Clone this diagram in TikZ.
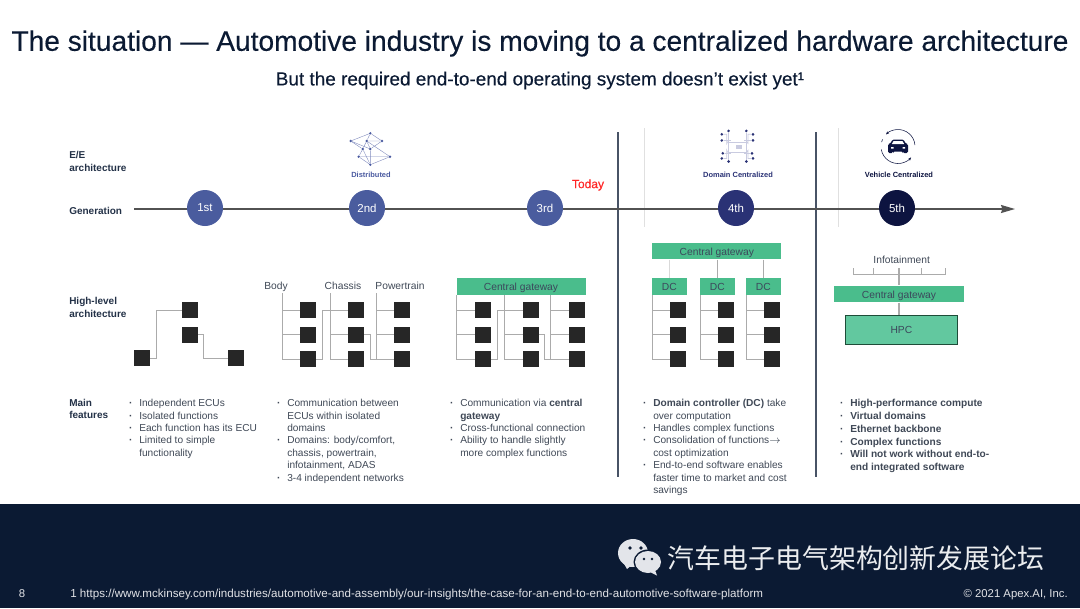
\documentclass[tikz,border=0pt]{standalone}
\usepackage{fontspec}
\setmainfont{Liberation Sans}
\newfontfamily\cjkfont{Noto Sans CJK SC}
\newfontfamily\headfont[FakeBold=0.3]{Liberation Sans}
\usetikzlibrary{positioning,arrows.meta}

\definecolor{navy}{HTML}{0B1A33}
\definecolor{bodygray}{HTML}{3F4856}
\definecolor{wiregray}{HTML}{ABABAB}
\definecolor{gwgreen}{HTML}{4ABD8C}
\definecolor{hpcgreen}{HTML}{62C89F}
\definecolor{genblue}{HTML}{4A5C9E}
\definecolor{genindigo}{HTML}{2A3275}
\definecolor{gendark}{HTML}{0D1440}
\definecolor{iconblue}{HTML}{4A5AA0}
\definecolor{iconlight}{HTML}{C9CBE0}
\definecolor{chatgray}{HTML}{E3E5EA}

\tikzset{
  ecu/.style={fill=black!85,minimum size=12pt,inner sep=0pt},
  wire/.style={draw=wiregray,line width=0.7pt},
  gateway/.style={fill=gwgreen,minimum height=12.4pt,inner sep=0pt,text height=6pt,text depth=0pt,text=navy!80,font=\fontsize{7.7}{9}\selectfont},
  gen/.style={circle,minimum size=27pt,inner sep=0pt,text=white,font=\fontsize{8.6}{10}\selectfont},
  rowlabel/.style={anchor=west,align=left,inner sep=0pt,text=navy!90,font=\fontsize{7.5}{9.6}\selectfont\bfseries},
  toplabel/.style={anchor=base,inner sep=0pt,text=bodygray,font=\fontsize{7.7}{9}\selectfont},
  archlabel/.style={inner sep=0pt,font=\fontsize{5.6}{7}\selectfont\bfseries},
  features/.style={anchor=north west,align=left,inner sep=0pt,text=bodygray,font=\fontsize{7.6}{9.32}\selectfont},
  netdot/.style={circle,fill=iconblue,minimum size=2pt,inner sep=0pt},
  navydot/.style={circle,fill=genindigo,minimum size=2.2pt,inner sep=0pt},
  netline/.style={draw=iconblue!70,line width=0.3pt},
  domline/.style={draw=iconlight,line width=0.6pt},
  divider/.style={draw=navy!75,line width=0.9pt},
  fadeline/.style={draw=black!12,line width=0.7pt},
  footer/.style={inner sep=0pt,text=white!88!navy,font=\fontsize{8.5}{10}\selectfont}
}
\newcommand{\itm}{\llap{\textbf{\textperiodcentered}\hspace{5pt}}}

\begin{document}
\begin{tikzpicture}[x=0.75pt,y=-0.75pt,node distance=6pt]
\useasboundingbox (0,0) rectangle (1080,608);

% headline
\node [inner sep=0pt,text=navy,font=\headfont\fontsize{21.1}{24}\selectfont] (title) at (540,43.5)
  {The situation — Automotive industry is moving to a centralized hardware architecture};
\node [inner sep=0pt,text=navy,font=\headfont\fontsize{14.2}{16}\selectfont] (subtitle) at (540,80.5)
  {But the required end-to-end operating system doesn’t exist yet¹};

% row labels
\node [rowlabel] (eelabel) at (69,161.5) {E/E\\architecture};
\node [rowlabel] (genlabel) at (69,210.5) {Generation};
\node [rowlabel] (hllabel) at (69,307.5) {High-level\\architecture};
\node [rowlabel] (mainlabel) at (69,409) {Main\\features};

% timeline
\coordinate (axisstart) at (134,209);
\coordinate (axisend) at (1015,209);
\coordinate (sepatop) at (618,132);
\coordinate (sepabot) at (618,477);
\coordinate (sepbtop) at (816,132);
\coordinate (sepbbot) at (816,477);
\coordinate (fadeatop) at (644,128);
\coordinate (fadeabot) at (644,227);
\coordinate (fadebtop) at (838,128);
\coordinate (fadebbot) at (838,227);
\draw [fadeline] (fadeatop) -- (fadeabot);
\draw [fadeline] (fadebtop) -- (fadebbot);
\draw [divider] (sepatop) -- (sepabot);
\draw [divider] (sepbtop) -- (sepbbot);
\draw [draw=black!68,line width=1.1pt,-{Stealth[length=10.5pt,width=6pt,inset=1pt]}] (axisstart) -- (axisend);
\node [gen,fill=genblue] (gen1) at (205,208) {1st};
\node [gen,fill=genblue] (gen2) at (367,208) {2nd};
\node [gen,fill=genblue] (gen3) at (545,208) {3rd};
\node [gen,fill=genindigo] (gen4) at (736,208) {4th};
\node [gen,fill=gendark] (gen5) at (897,208) {5th};
\node [inner sep=0pt,text=red!85!white,font=\headfont\fontsize{9}{10}\selectfont] (today) at (588,185) {Today};

% distributed icon
\node [netdot] (na) at (370.3,133.3) {};
\node [netdot] (nb) at (350.7,141) {};
\node [netdot] (nc) at (366.7,141) {};
\node [netdot] (nd) at (382,141) {};
\node [netdot] (ne) at (362.7,149) {};
\node [netdot] (nf) at (370.3,149) {};
\node [netdot] (ng) at (358.7,156.7) {};
\node [netdot] (nh) at (390,156.7) {};
\node [netdot] (ni) at (370.3,164.7) {};
\draw [netline] (nb) -- (na) -- (nd) -- (nf) -- (nc) -- (nh) -- (ni) -- (ng) -- (ne) -- (nb);
\draw [netline] (nc) -- (ne) -- (ni) -- (nf);
\draw [netline] (na) -- (nc) (nb) -- (nf) (ng) -- (nh) (nd) -- (nc);
\node [archlabel,text=iconblue] (distlabel) at (371,175) {Distributed};

% domain centralized icon
\node [draw=iconlight,line width=0.6pt,minimum width=13.5pt,minimum height=7.5pt,inner sep=0pt] (chip) at (737,147) {};
\node [fill=iconlight,minimum width=5pt,minimum height=3pt,inner sep=0pt] (chipcore) at (739,147) {};
\node [navydot] (da) at (728.6,130.9) {};
\node [navydot] (db) at (746.3,130.9) {};
\node [navydot] (dc) at (721.8,134.3) {};
\node [navydot] (dd) at (753,134.3) {};
\node [navydot] (de) at (721.8,140.4) {};
\node [navydot] (df) at (753,140.4) {};
\node [navydot] (dg) at (722.8,153.3) {};
\node [navydot] (dh) at (752,153.3) {};
\node [navydot] (di) at (721.8,158.4) {};
\node [navydot] (dj) at (753,158.4) {};
\node [navydot] (dk) at (728.6,161.5) {};
\node [navydot] (dl) at (746.3,161.5) {};
\draw [domline] (da) -- (da |- chip.north) (db) -- (db |- chip.south);
\draw [domline] (dk) -- (dk |- chip.south) (dl) -- (dl |- chip.north);
\draw [domline] (dc) -| ++(5,9) -- (chip.north west);
\draw [domline] (dd) -| ++(-5,9) -- (chip.north east);
\draw [domline] (de) -- ++(9,0);
\draw [domline] (df) -- ++(-9,0);
\draw [domline] (dg) -- ++(8,0);
\draw [domline] (dh) -- ++(-8,0);
\draw [domline] (di) -| ++(5,-8) -- (chip.south west);
\draw [domline] (dj) -| ++(-5,-8) -- (chip.south east);
\node [archlabel,text=genindigo] (domlabel) at (738,175) {Domain Centralized};

% vehicle centralized icon
\node [inner sep=0pt,minimum size=0pt] (carmid) at (898,146.5) {};
\draw [draw=gendark,line width=0.4pt,-{Stealth[length=2.5pt,width=2pt]}] (carmid) ++(170:17) arc (170:40:17);
\draw [draw=gendark,line width=0.4pt,-{Stealth[length=2.5pt,width=2pt]}] (carmid) ++(355:17) arc (355:225:17);
\draw [draw=gendark,line width=0.4pt] (carmid) ++(205:17) arc (205:195:17);
\fill [gendark,rounded corners=1pt] (888,144) -- (890,144) -- (892.5,139.5) -- (903.5,139.5) -- (906,144) -- (908,144) -- (908,153) -- (903,153) -- (903,151.5) -- (893,151.5) -- (893,153) -- (888,153) -- cycle;
\fill [white] (891.8,144) -- (893.6,141) -- (902.4,141) -- (904.2,144) -- cycle;
\fill [white] (891,147) rectangle (893.5,148.6) (902.5,147) rectangle (905,148.6);
\node [archlabel,text=gendark] (carlabel) at (899,175) {Vehicle Centralized};

% first generation
\node [ecu] (aa) at (190,310) {};
\node [ecu,below=of aa] (ab) {};
\node [ecu] (ac) at (142,358) {};
\node [ecu] (ad) at (236,358) {};
\draw [wire] (ac.east) -- ++(6.5,0) |- (aa.west);
\draw [wire] (ab.east) -- ++(5,0) |- (ad.west);

% second generation
\node [toplabel] (body) at (276,289) {Body};
\node [toplabel] (chassis) at (343,289) {Chassis};
\node [toplabel] (power) at (400,289) {Powertrain};
\coordinate (bodybus) at (282,293);
\coordinate (chassisbus) at (330,293);
\coordinate (powerbus) at (376,293);
\node [ecu] (ba) at (308,310) {};
\node [ecu,below=of ba] (bb) {};
\node [ecu,below=of bb] (bc) {};
\node [ecu] (ca) at (356,310) {};
\node [ecu,below=of ca] (cb) {};
\node [ecu,below=of cb] (cc) {};
\node [ecu] (pa) at (402,310) {};
\node [ecu,below=of pa] (pb) {};
\node [ecu,below=of pb] (pc) {};
\draw [wire] (bodybus) |- (bc.west) (bodybus |- ba) -- (ba.west) (bodybus |- bb) -- (bb.west);
\draw [wire] (chassisbus) |- (cc.west) (chassisbus |- ca) -- (ca.west) (chassisbus |- cb) -- (cb.west);
\draw [wire] (powerbus) |- (pc.west) (powerbus |- pa) -- (pa.west) (powerbus |- pb) -- (pb.west);
\draw [wire] (bc.east) -- ++(6.5,0) |- (ca.west);
\draw [wire] (cb.east) -- ++(6,0) |- (pc.west);

% third generation
\node [gateway,minimum width=96.75pt] (gwthree) at (521,286.5) {Central gateway};
\coordinate (busa) at (456.9,295);
\coordinate (busb) at (504.7,295);
\coordinate (busc) at (550.3,295);
\node [ecu] (ta) at (483,310) {};
\node [ecu,below=of ta] (tb) {};
\node [ecu,below=of tb] (tc) {};
\node [ecu] (ua) at (531,310) {};
\node [ecu,below=of ua] (ub) {};
\node [ecu,below=of ub] (uc) {};
\node [ecu] (va) at (577,310) {};
\node [ecu,below=of va] (vb) {};
\node [ecu,below=of vb] (vc) {};
\draw [wire] (busa) |- (tc.west) (busa |- ta) -- (ta.west) (busa |- tb) -- (tb.west);
\draw [wire] (busb) |- (uc.west) (busb |- ua) -- (ua.west) (busb |- ub) -- (ub.west);
\draw [wire] (busc) |- (vc.west) (busc |- va) -- (va.west) (busc |- vb) -- (vb.west);
\draw [wire] (tc.east) -- ++(6.5,0) |- (ua.west);
\draw [wire] (ub.east) -- ++(5,0) |- (vc.west);

% fourth generation
\node [gateway,minimum width=96.75pt] (gwfour) at (716.8,251) {Central gateway};
\node [gateway,minimum width=26pt] (dca) at (669.3,286.5) {DC};
\node [gateway,minimum width=26pt] (dcb) at (717.3,286.5) {DC};
\node [gateway,minimum width=26pt] (dcc) at (763.3,286.5) {DC};
\draw [wire,draw=black!15] (gwfour.south -| dca) -- (dca.north);
\draw [wire] (gwfour.south -| dcb) -- (dcb.north);
\draw [wire] (gwfour.south -| dcc) -- (dcc.north);
\coordinate (busd) at (652.5,295);
\coordinate (buse) at (700.5,295);
\coordinate (busf) at (746.5,295);
\node [ecu] (xa) at (678.3,310) {};
\node [ecu,below=of xa] (xb) {};
\node [ecu,below=of xb] (xc) {};
\node [ecu] (ya) at (726.3,310) {};
\node [ecu,below=of ya] (yb) {};
\node [ecu,below=of yb] (yc) {};
\node [ecu] (za) at (772.3,310) {};
\node [ecu,below=of za] (zb) {};
\node [ecu,below=of zb] (zc) {};
\draw [wire] (busd) |- (xc.west) (busd |- xa) -- (xa.west) (busd |- xb) -- (xb.west);
\draw [wire] (buse) |- (yc.west) (buse |- ya) -- (ya.west) (buse |- yb) -- (yb.west);
\draw [wire] (busf) |- (zc.west) (busf |- za) -- (za.west) (busf |- zb) -- (zb.west);

% fifth generation
\node [toplabel] (info) at (901.7,263.5) {Infotainment};
\node [gateway,minimum width=97pt] (gwfive) at (899,294) {Central gateway};
\node [fill=hpcgreen,draw=black!60!gwgreen,line width=0.5pt,minimum width=83.5pt,minimum height=21.8pt,inner sep=0pt,text=navy!80,font=\fontsize{7.7}{9}\selectfont] (hpc) at (901.4,329.8) {HPC};
\coordinate (infol) at (853.7,268);
\coordinate (infolb) at (873,268);
\coordinate (infoc) at (899,268);
\coordinate (inforb) at (921.7,268);
\coordinate (infor) at (945.3,268);
\coordinate (infobar) at (853.7,274.7);
\draw [wire,line width=0.5pt] (infol) |- (infor |- infobar) -- (infor);
\draw [wire,line width=0.5pt] (infolb) -- (infolb |- infobar) (inforb) -- (inforb |- infobar);
\draw [wire,line width=0.9pt] (infoc) -- (gwfive.north -| infoc);
\draw [wire,line width=0.9pt] (gwfive.south -| infoc) -- (hpc.north -| infoc);

% feature lists
\node [features] (lista) at (139,399) {\itm Independent ECUs\\\itm Isolated functions\\\itm Each function has its ECU\\\itm Limited to simple\\functionality};
\node [features] (listb) at (287,399) {\itm Communication between\\ECUs within isolated\\domains\\\itm Domains: body/comfort,\\chassis, powertrain,\\infotainment, ADAS\\\itm 3-4 independent networks};
\node [features] (listc) at (460,399) {\itm Communication via \textbf{central}\\\textbf{gateway}\\\itm Cross-functional connection\\\itm Ability to handle slightly\\more complex functions};
\node [features] (listd) at (653,399) {\itm \textbf{Domain controller (DC)} take\\over computation\\\itm Handles complex functions\\\itm Consolidation of functions$\rightarrow$\\cost optimization\\\itm End-to-end software enables\\faster time to market and cost\\savings};
\node [features,font=\fontsize{7.6}{9.6}\selectfont] (liste) at (850,399) {\itm \textbf{High-performance compute}\\\itm \textbf{Virtual domains}\\\itm \textbf{Ethernet backbone}\\\itm \textbf{Complex functions}\\\itm \textbf{Will not work without end-to-}\\\textbf{end integrated software}};

% footer band
\fill [navy] (0,504) rectangle (1080,608);
\node [footer] (pageno) at (22,594) {8};
\node [footer,anchor=west,font=\fontsize{8.7}{10}\selectfont] (source) at (70,594.5) {1 https://www.mckinsey.com/industries/automotive-and-assembly/our-insights/the-case-for-an-end-to-end-automotive-software-platform};
\node [footer,anchor=east] (copyr) at (1068,594.5) {© 2021 Apex.AI, Inc.};

% chat mark and channel name
\fill [chatgray] (633,553) ellipse [x radius=15,y radius=14];
\fill [chatgray] (623,562) -- (627,569) -- (633,564) -- cycle;
\fill [navy] (648,562) ellipse [x radius=14.5,y radius=12.5];
\fill [chatgray] (648,562) ellipse [x radius=13,y radius=11];
\fill [chatgray] (655,570) -- (657,575.5) -- (651,572.5) -- cycle;
\fill [navy] (630,548) circle [radius=1.9] (641,548) circle [radius=1.9] (644,559) circle [radius=1.4] (652,559) circle [radius=1.4];
\node [inner sep=0pt,text=white!92!navy,font=\cjkfont\fontsize{20.2}{24}\selectfont] (channel) at (856,558.5) {汽车电子电气架构创新发展论坛};
\end{tikzpicture}
\end{document}
